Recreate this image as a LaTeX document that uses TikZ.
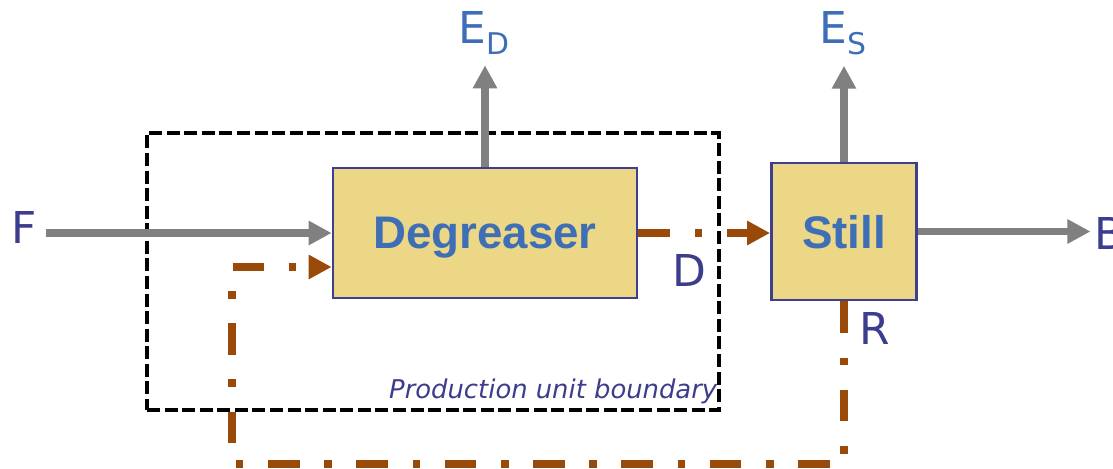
\documentclass[tikz,border=0pt]{standalone}
\usepackage{fontspec}
\setmainfont{Liberation Sans}
\newfontfamily\labelfont{DejaVu Sans}
\usepackage{tikz}
\usetikzlibrary{arrows.meta,positioning,calc}
\definecolor{UnitFill}{HTML}{EBD785}
\definecolor{UnitEdge}{HTML}{3F3F8F}
\definecolor{UnitText}{HTML}{3E6EB6}
\definecolor{LabelBlue}{HTML}{3D3D8D}
\definecolor{FlowGray}{HTML}{808080}
\definecolor{RecBrown}{HTML}{9A4A08}
\newcommand{\lowsub}[1]{\raisebox{-6.8pt}{\fontsize{17}{17}\selectfont #1}}

\begin{document}
\begin{tikzpicture}[x=0.02cm,y=-0.02cm,
  unit/.style={draw=UnitEdge,line width=1.6pt,fill=UnitFill,text=UnitText,text depth=0pt,
    font=\fontsize{26}{30}\selectfont\bfseries},
  lbl/.style={font=\labelfont\fontsize{25}{28}\selectfont,text=LabelBlue,inner sep=0pt},
  elbl/.style={lbl,text=UnitText},
  flow/.style={-{Triangle[length=0.46cm,width=0.46cm]},line width=4.5pt,draw=FlowGray},
  recyc/.style={-{Triangle[length=0.46cm,width=0.46cm]},line width=4.3pt,draw=RecBrown,
    dash pattern=on 18pt off 14pt on 4.3pt off 14pt},
  boundary/.style={draw=black,line width=1.8pt,dash pattern=on 7.4pt off 2.6pt},
]
\useasboundingbox (0,0) rectangle (1113,468);
% production unit boundary
\node[boundary,minimum width=11.44cm,minimum height=5.54cm] (bnd) at (433,271.5) {};
\node[anchor=base east,font=\labelfont\itshape\fontsize{14.7}{16}\selectfont,text=LabelBlue,inner sep=0pt]
  (bndlbl) at ($(bnd.south east)+(-3,-13)$) {Production unit boundary};
% units
\node[unit,minimum width=6.08cm,minimum height=2.6cm] (degr) at (485,233) {Degreaser};
\node[unit,minimum width=2.9cm,minimum height=2.74cm] (still) at (844,231.5) {Still};
% stream labels
\node[lbl] (F) at (24,227) {F};
\node[lbl] (D) at (689,270) {D};
\node[lbl] (R) at (875,328) {R};
\node[lbl,anchor=west] (B) at (1094,233) {B};
\node[elbl,anchor=base west] (ed) at (458,43) {E\lowsub{D}};
\node[elbl,anchor=base west] (es) at (819,43) {E\lowsub{S}};
% streams
\draw[flow,shorten <=5pt] (F.east |- degr.west) -- (degr.west);
\draw[flow,shorten >=5.7pt] (degr.north) -- (degr.north |- ed.south);
\draw[flow,shorten >=5.7pt] (still.north) -- (still.north |- es.south);
\draw[flow,shorten >=2pt] (still.east) -- (still.east -| B.west);
\draw[recyc] (degr.east) -- (degr.east -| still.west);
\coordinate (rb) at (232,464);
\coordinate (din) at ($(degr.west)+(0,34)$);
\draw[recyc] (still.south) |- (rb) |- (din);
\end{tikzpicture}
\end{document}
